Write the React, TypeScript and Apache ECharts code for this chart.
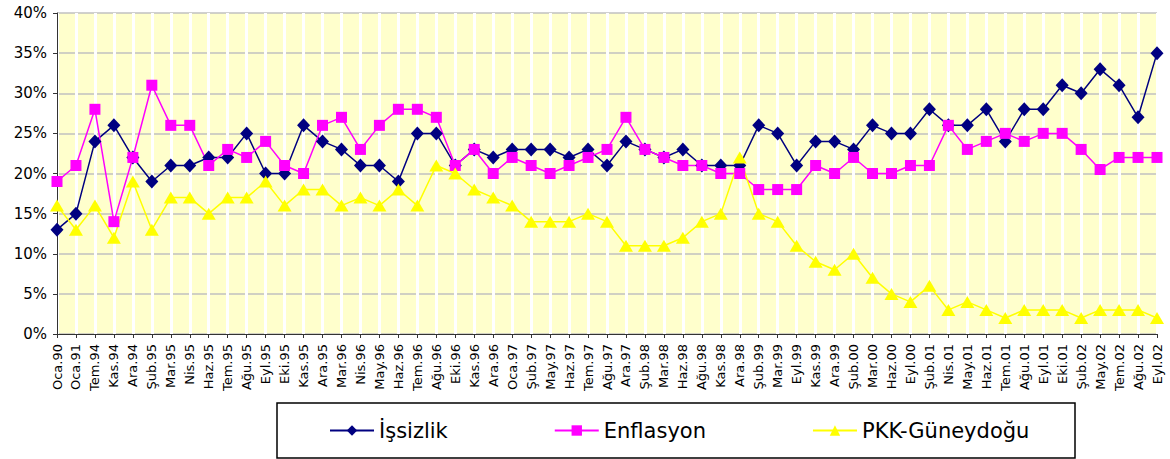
import React, { useEffect, useRef } from "react";
import * as echarts from "echarts";

const categories = [
  "Oca.90", "Oca.91", "Tem.94", "Kas.94", "Ara.94", "Şub.95", "Mar.95", "Nis.95", "Haz.95", "Tem.95",
  "Ağu.95", "Eyl.95", "Eki.95", "Kas.95", "Ara.95", "Mar.96", "Nis.96", "May.96", "Haz.96", "Tem.96",
  "Ağu.96", "Eki.96", "Kas.96", "Ara.96", "Oca.97", "Şub.97", "May.97", "Haz.97", "Tem.97", "Ağu.97",
  "Ara.97", "Şub.98", "Mar.98", "Haz.98", "Ağu.98", "Kas.98", "Ara.98", "Şub.99", "Mar.99", "Eyl.99",
  "Kas.99", "Ara.99", "Şub.00", "Mar.00", "Haz.00", "Eyl.00", "Şub.01", "Nis.01", "May.01", "Haz.01",
  "Tem.01", "Ağu.01", "Eyl.01", "Eki.01", "Şub.02", "May.02", "Tem.02", "Ağu.02", "Eyl.02",
];

const issizlik = [
  13, 15, 24, 26, 22, 19, 21, 21, 22, 22,
  25, 20, 20, 26, 24, 23, 21, 21, 19, 25,
  25, 21, 23, 22, 23, 23, 23, 22, 23, 21,
  24, 23, 22, 23, 21, 21, 21, 26, 25, 21,
  24, 24, 23, 26, 25, 25, 28, 26, 26, 28,
  24, 28, 28, 31, 30, 33, 31, 27, 35,
];

const enflasyon = [
  19, 21, 28, 14, 22, 31, 26, 26, 21, 23,
  22, 24, 21, 20, 26, 27, 23, 26, 28, 28,
  27, 21, 23, 20, 22, 21, 20, 21, 22, 23,
  27, 23, 22, 21, 21, 20, 20, 18, 18, 18,
  21, 20, 22, 20, 20, 21, 21, 26, 23, 24,
  25, 24, 25, 25, 23, 20.5, 22, 22, 22,
];

const pkk = [
  16, 13, 16, 12, 19, 13, 17, 17, 15, 17,
  17, 19, 16, 18, 18, 16, 17, 16, 18, 16,
  21, 20, 18, 17, 16, 14, 14, 14, 15, 14,
  11, 11, 11, 12, 14, 15, 22, 15, 14, 11,
  9, 8, 10, 7, 5, 4, 6, 3, 4, 3,
  2, 3, 3, 3, 2, 3, 3, 3, 2,
];

const yTicks = { min: 0, max: 40, interval: 5 };

export default function App() {
  const ref = useRef<HTMLDivElement>(null);
  useEffect(() => {
    if (!ref.current) return;
    const chart = echarts.init(ref.current, undefined, { renderer: "svg" });
    const font = "DejaVu Sans";
    chart.setOption({
      animation: false,
      textStyle: { fontFamily: font },
      grid: { left: 57, right: 13, top: 13, bottom: 125, show: true, backgroundColor: "#FFFFCC", borderWidth: 0 },
      graphic: [
        {
          type: "rect",
          shape: { x: 277, y: 403, width: 798, height: 55 },
          style: { fill: "#ffffff", stroke: "#000000", lineWidth: 1.5 },
          z: 0,
        },
      ],
      legend: {
        left: 329,
        top: 420,
        itemGap: 106,
        itemWidth: 44,
        itemHeight: 13,
        padding: 0,
        textStyle: { fontFamily: font, fontSize: 21, color: "#000000" },
        data: ["İşsizlik", "Enflasyon", "PKK-Güneydoğu"],
        z: 5,
      },
      xAxis: {
        type: "category",
        data: categories,
        boundaryGap: false,
        axisLine: { lineStyle: { color: "#333333", width: 1 } },
        axisTick: { show: true, length: 4, lineStyle: { color: "#333333" }, alignWithLabel: true },
        axisLabel: { rotate: 90, interval: 0, fontSize: 13, color: "#000000", margin: 10, fontFamily: font },
        splitLine: { show: true, interval: 0, lineStyle: { color: "#ffffff", width: 3 } },
      },
      yAxis: {
        type: "value",
        min: yTicks.min,
        max: yTicks.max,
        interval: yTicks.interval,
        axisLine: { show: true, lineStyle: { color: "#333333", width: 1 } },
        axisTick: { show: true, length: 4, lineStyle: { color: "#333333" } },
        axisLabel: { formatter: "{value}%", fontSize: 15, color: "#000000", margin: 10, fontFamily: font },
        splitLine: { show: true, lineStyle: { color: "#c0c0c0", width: 1.5 } },
      },
      series: [
        {
          name: "İşsizlik",
          type: "line",
          data: issizlik,
          symbol: "diamond",
          symbolSize: [13, 14],
          lineStyle: { color: "#000080", width: 1.5 },
          itemStyle: { color: "#000080" },
        },
        {
          name: "Enflasyon",
          type: "line",
          data: enflasyon,
          symbol: "rect",
          symbolSize: 11,
          lineStyle: { color: "#FF00FF", width: 1.5 },
          itemStyle: { color: "#FF00FF" },
        },
        {
          name: "PKK-Güneydoğu",
          type: "line",
          data: pkk,
          symbol: "triangle",
          symbolSize: [14, 12],
          lineStyle: { color: "#FFFF00", width: 1.5 },
          itemStyle: { color: "#FFFF00" },
        },
      ],
    });
    return () => chart.dispose();
  }, []);
  return <div ref={ref} style={{ width: 1170, height: 459, position: "absolute", left: 0, top: 0 }} />;
}
